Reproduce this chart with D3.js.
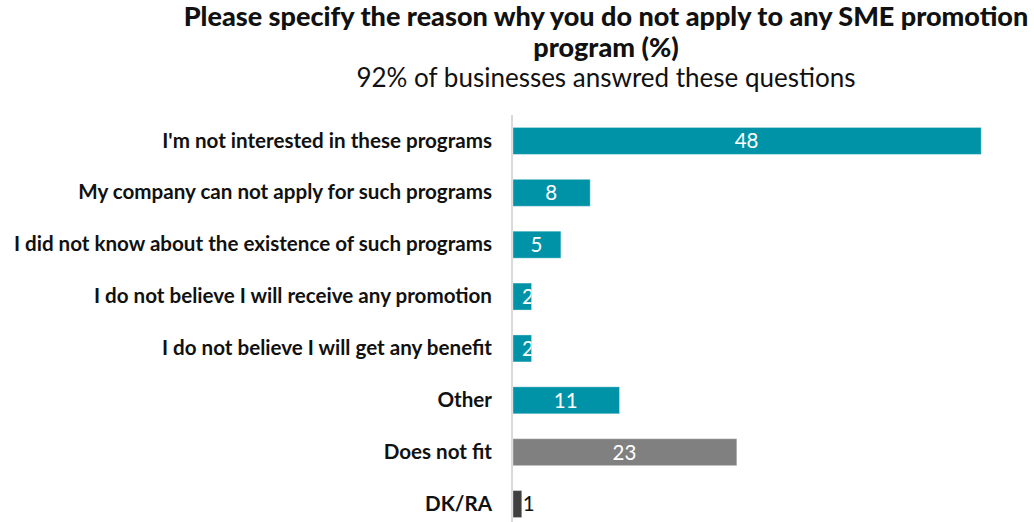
<!DOCTYPE html>
<html>
<head>
<meta charset="utf-8">
<script src="https://cdn.jsdelivr.net/npm/d3@7"></script>
<style>
  html, body { margin: 0; padding: 0; background: #fff; }
  svg { display: block; font-family: Lato, "Open Sans", sans-serif; }
</style>
</head>
<body>
<svg id="chart" width="1034" height="522"></svg>
<script>
// Survey answers: reason for not applying to SME promotion programs (%)
const categories = [
  "I'm not interested in these programs",
  "My company can not apply for such programs",
  "I did not know about the existence of such programs",
  "I do not believe I will receive any promotion",
  "I do not believe I will get any benefit",
  "Other",
  "Does not fit",
  "DK/RA"
];
const values = [48, 8, 5, 2, 2, 11, 23, 1];
const barColors = ["#0093a7", "#0093a7", "#0093a7", "#0093a7", "#0093a7", "#0093a7", "#808080", "#404040"];
const labelColors = ["#fff", "#fff", "#fff", "#fff", "#fff", "#fff", "#fff", "#111"];

const titleLines = ["Please specify the reason why you do not apply to any SME promotion", "program (%)"];
const subtitle = "92% of businesses answred these questions";

const svg = d3.select("#chart");
const W = 1034, H = 522;
const left = 512, right = 1034;

const x = d3.scaleLinear().domain([0, 53.4]).range([left, right]);
const y = d3.scaleBand().domain(categories).range([115, 530]).paddingInner(0.48).paddingOuter(0.24);

// Title (two lines in one text block) and subtitle
const cx = 606;
const title = svg.append("text")
  .attr("text-anchor", "middle")
  .style("font-size", "27px").style("font-weight", 900).style("fill", "#111");
title.selectAll("tspan").data(titleLines).join("tspan")
  .attr("x", cx).attr("y", (d, i) => 26 + i * 31)
  .text(d => d);
svg.append("text")
  .attr("x", cx).attr("y", 87)
  .attr("text-anchor", "middle")
  .style("font-size", "26px").style("font-weight", 400).style("fill", "#111")
  .text(subtitle);

// Category axis
const yAxis = svg.append("g")
  .attr("transform", `translate(${left},0)`)
  .call(d3.axisLeft(y).tickSize(0).tickPadding(20));
yAxis.select(".domain").attr("stroke", "#d9d9d9").attr("stroke-width", 2)
  .attr("d", `M0,115V${H}`);
yAxis.selectAll(".tick text")
  .style("font-family", "Lato, sans-serif")
  .style("font-size", "20.6px").style("font-weight", 700).style("fill", "#111");

// Bars
const defs = svg.append("defs");
const bars = svg.append("g");
bars.selectAll("rect").data(values).join("rect")
  .attr("x", x(0) + 1)
  .attr("y", (d, i) => y(categories[i]))
  .attr("width", d => x(d) - x(0) - 1)
  .attr("height", y.bandwidth())
  .attr("fill", (d, i) => barColors[i])
  .attr("stroke", "rgba(255,255,255,0.35)").attr("stroke-width", 1);

values.forEach((d, i) => {
  defs.append("clipPath").attr("id", "clip" + i)
    .append("rect")
    .attr("x", x(0) + 1).attr("y", y(categories[i]))
    .attr("width", x(d) - x(0) - 1).attr("height", y.bandwidth());
});

// Value labels
const lab = svg.append("g");
values.forEach((d, i) => {
  const yc = y(categories[i]) + y.bandwidth() / 2;
  const w = x(d) - x(0);
  const t = lab.append("text")
    .attr("y", yc).attr("dy", "0.36em")
    .style("font-size", "20.5px").style("font-weight", 400)
    .style("fill", labelColors[i])
    .text(d);
  if (labelColors[i] !== "#fff") {
    t.attr("x", x(d) + 1).attr("text-anchor", "start");
  } else if (w < 30) {
    t.attr("x", x(0) + 10).attr("text-anchor", "start")
      .attr("clip-path", `url(#clip${i})`);
  } else {
    t.attr("x", x(0) + w / 2).attr("text-anchor", "middle");
  }
});
</script>
</body>
</html>
